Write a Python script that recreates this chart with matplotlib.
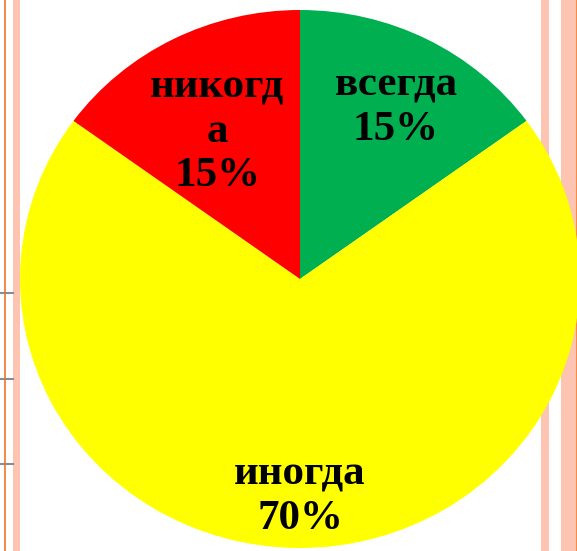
import matplotlib
matplotlib.use("Agg")
import matplotlib.pyplot as plt
from matplotlib.patches import Rectangle
from matplotlib.lines import Line2D

categories = ["всегда", "иногда", "никогд\nа"]
values = [15, 70, 15]
colors = ["#00B050", "#FFFF00", "#FF0000"]

W, H = 577, 551
fig = plt.figure(figsize=(W / 100, H / 100), dpi=100)
fig.patch.set_facecolor("white")

def px(x0, y0, w, h):
    return (x0 / W, 1 - (y0 + h) / H, w / W, h / H)

# decorative borders (behind pie)
for (x0, w, c) in [(4, 2, "#F58A4A"), (13, 7, "#FDC4B2"),
                   (541, 8, "#FDC4B2"), (561, 16, "#FDC4B2"), (576, 1.5, "#F58A4A")]:
    fig.add_artist(Rectangle((x0 / W, 0), w / W, 1, transform=fig.transFigure,
                             facecolor=c, edgecolor="none", zorder=0))
for y in [293, 379, 464]:
    fig.add_artist(Line2D([0, 13 / W], [1 - y / H, 1 - y / H], transform=fig.transFigure,
                          color="#8c8c8c", lw=1.5, zorder=0))

# pie axes spans the ellipse bounding box
cx, cy, rx, ry = 300, 279, 280, 269
ax = fig.add_axes(px(cx - rx, cy - ry, 2 * rx, 2 * ry))
ax.set_zorder(2)
ax.patch.set_alpha(0)
wedges, _ = ax.pie(values, colors=colors, startangle=90, counterclock=False,
                   radius=1, wedgeprops=dict(linewidth=0))
ax.set_aspect("auto")
ax.set_xlim(-1, 1)
ax.set_ylim(-1, 1)
ax.axis("off")

label_pos = [(396, 108), (300, 497), (217, 132)]
for cat, v, (x, y) in zip(categories, values, label_pos):
    fig.text(x / W, 1 - y / H, f"{cat}\n{v}%", ha="center", va="center",
             fontsize=31, fontweight="bold", family="Liberation Serif",
             linespacing=1.22, zorder=5)

fig.savefig("out.png", dpi=100)
